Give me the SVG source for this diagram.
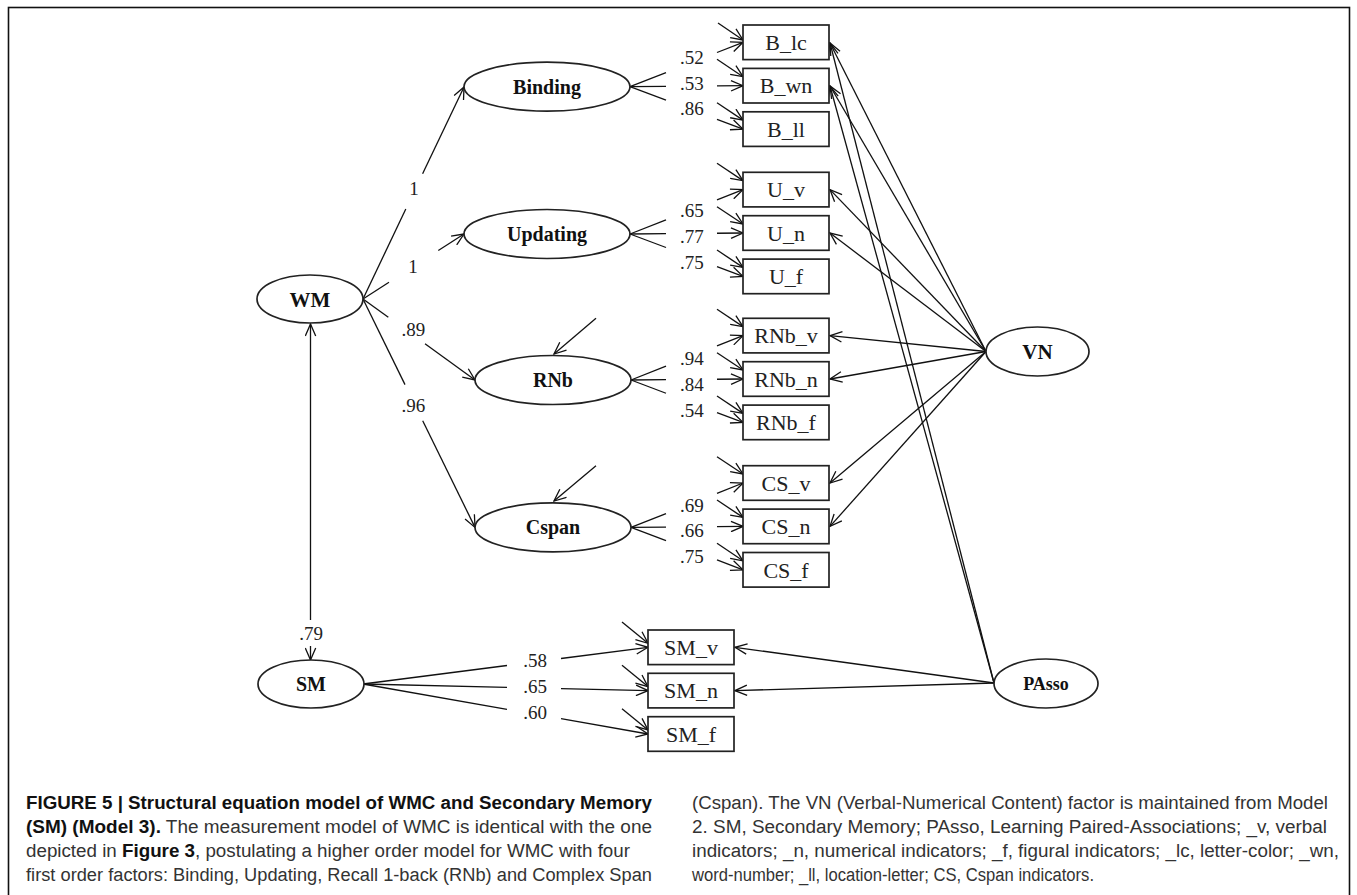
<svg xmlns="http://www.w3.org/2000/svg" width="1357" height="895" viewBox="0 0 1357 895">
<style>
.frame{fill:none;stroke:#111;stroke-width:1.6}
.el{fill:#fff;stroke:#222;stroke-width:1.7}
.bx{fill:#fff;stroke:#222;stroke-width:1.7}
.fl{font-family:"Liberation Serif","Times New Roman",serif;font-weight:bold;font-size:20px;fill:#111;text-anchor:middle}
.bl{font-family:"Liberation Serif","Times New Roman",serif;font-size:22px;fill:#222;text-anchor:middle}
.cl{font-family:"Liberation Serif","Times New Roman",serif;font-size:19px;fill:#222}
.cm{text-anchor:middle}
.ln{fill:none;stroke:#111;stroke-width:1.3}
.ar{marker-end:url(#ah)}
.cap{font-family:"Liberation Sans Narrow","Liberation Sans",Arial,sans-serif;font-size:18px;fill:#333}
.b{font-weight:bold;fill:#111}
</style>
<defs>
<marker id="ah" markerUnits="userSpaceOnUse" markerWidth="14" markerHeight="12" viewBox="0 0 14 12" refX="13" refY="6" orient="auto-start-reverse">
<path d="M1,0.8 L13,6 L1,11.2" fill="none" stroke="#111" stroke-width="1.3"/>
</marker>
</defs>
<rect class="frame" x="8.5" y="7.5" width="1341" height="900"/>

<g id="connectors">
<line class="ln" x1="363" y1="299" x2="405.8" y2="209"/>
<line class="ln ar" x1="422.6" y1="173.7" x2="464" y2="87"/>
<line class="ln" x1="363" y1="299" x2="389" y2="282.3"/>
<line class="ln ar" x1="438.3" y1="250.5" x2="464" y2="234"/>
<line class="ln" x1="363" y1="299" x2="388.3" y2="317.3"/>
<line class="ln ar" x1="425" y1="343.8" x2="475" y2="380"/>
<line class="ln" x1="363" y1="299" x2="405" y2="384.6"/>
<line class="ln ar" x1="422.7" y1="420.7" x2="475" y2="527.4"/>
<line class="ln" x1="310.5" y1="324" x2="310.5" y2="620" marker-start="url(#ah)"/>
<line class="ln ar" x1="310.5" y1="646" x2="310.5" y2="660"/>
<line class="ln ar" x1="596" y1="318.3" x2="554" y2="354"/>
<line class="ln ar" x1="596" y1="465.7" x2="554" y2="501"/>
<line class="ln" x1="630" y1="86.7" x2="666" y2="72.56"/>
<line class="ln ar" x1="717" y1="52.52" x2="743" y2="42.3"/>
<line class="ln" x1="630" y1="86.7" x2="666" y2="86.38"/>
<line class="ln ar" x1="717" y1="85.93" x2="743" y2="85.7"/>
<line class="ln" x1="630" y1="86.7" x2="666" y2="100.21"/>
<line class="ln ar" x1="717" y1="119.34" x2="743" y2="129.1"/>
<line class="ln" x1="630" y1="234" x2="666" y2="219.86"/>
<line class="ln ar" x1="717" y1="199.82" x2="743" y2="189.6"/>
<line class="ln" x1="630" y1="234" x2="666" y2="233.68"/>
<line class="ln ar" x1="717" y1="233.23" x2="743" y2="233"/>
<line class="ln" x1="630" y1="234" x2="666" y2="247.51"/>
<line class="ln ar" x1="717" y1="266.64" x2="743" y2="276.4"/>
<line class="ln" x1="631" y1="380" x2="666" y2="366.13"/>
<line class="ln ar" x1="717" y1="345.91" x2="743" y2="335.6"/>
<line class="ln" x1="631" y1="380" x2="666" y2="379.69"/>
<line class="ln ar" x1="717" y1="379.23" x2="743" y2="379"/>
<line class="ln" x1="631" y1="380" x2="666" y2="393.25"/>
<line class="ln ar" x1="717" y1="412.56" x2="743" y2="422.4"/>
<line class="ln" x1="631" y1="527.4" x2="666" y2="513.53"/>
<line class="ln ar" x1="717" y1="493.31" x2="743" y2="483"/>
<line class="ln" x1="631" y1="527.4" x2="666" y2="527.09"/>
<line class="ln ar" x1="717" y1="526.63" x2="743" y2="526.4"/>
<line class="ln" x1="631" y1="527.4" x2="666" y2="540.65"/>
<line class="ln ar" x1="717" y1="559.96" x2="743" y2="569.8"/>
<line class="ln" x1="363" y1="684" x2="507" y2="665.5"/>
<line class="ln ar" x1="561" y1="658.5" x2="648" y2="647.3"/>
<line class="ln" x1="363" y1="684" x2="507" y2="687.3"/>
<line class="ln ar" x1="561" y1="688.6" x2="648" y2="690.6"/>
<line class="ln" x1="363" y1="684" x2="507" y2="709.3"/>
<line class="ln ar" x1="561" y1="718.7" x2="648" y2="734"/>
<line class="ln ar" x1="718" y1="23" x2="743" y2="40"/>
<line class="ln ar" x1="717" y1="59.3" x2="743" y2="76.7"/>
<line class="ln ar" x1="717" y1="102.7" x2="743" y2="120.1"/>
<line class="ln ar" x1="717" y1="163.3" x2="743" y2="180.6"/>
<line class="ln ar" x1="717" y1="206.7" x2="743" y2="224"/>
<line class="ln ar" x1="717" y1="250" x2="743" y2="267.4"/>
<line class="ln ar" x1="717" y1="309.3" x2="743" y2="326.6"/>
<line class="ln ar" x1="717" y1="352.7" x2="743" y2="370"/>
<line class="ln ar" x1="717" y1="396" x2="743" y2="413.4"/>
<line class="ln ar" x1="717" y1="456.7" x2="743" y2="474"/>
<line class="ln ar" x1="717" y1="500" x2="743" y2="517.4"/>
<line class="ln ar" x1="717" y1="543.3" x2="743" y2="560.8"/>
<line class="ln ar" x1="622" y1="622" x2="648" y2="643.3"/>
<line class="ln ar" x1="622" y1="665.3" x2="648" y2="686.6"/>
<line class="ln ar" x1="622" y1="708.7" x2="648" y2="730"/>
<line class="ln ar" x1="986" y1="351.5" x2="830" y2="43"/>
<line class="ln ar" x1="986" y1="351.5" x2="830" y2="86"/>
<line class="ln ar" x1="986" y1="351.5" x2="830" y2="189.6"/>
<line class="ln ar" x1="986" y1="351.5" x2="830" y2="233"/>
<line class="ln ar" x1="986" y1="351.5" x2="830" y2="335.6"/>
<line class="ln ar" x1="986" y1="351.5" x2="830" y2="379"/>
<line class="ln ar" x1="986" y1="351.5" x2="830" y2="483"/>
<line class="ln ar" x1="986" y1="351.5" x2="830" y2="526.4"/>
<line class="ln ar" x1="994" y1="683" x2="830" y2="43"/>
<line class="ln ar" x1="994" y1="683" x2="830" y2="86"/>
<line class="ln ar" x1="994" y1="683" x2="735" y2="647.3"/>
<line class="ln ar" x1="994" y1="683" x2="735" y2="690.6"/>
</g>

<g id="path-labels">
<text class="cl cm" x="414" y="195">1</text>
<text class="cl cm" x="413" y="272.7">1</text>
<text class="cl cm" x="413.3" y="336">.89</text>
<text class="cl cm" x="413.3" y="412">.96</text>
<text class="cl cm" x="311" y="640">.79</text>
<text class="cl" x="680" y="63.5">.52</text>
<text class="cl" x="680" y="89.5">.53</text>
<text class="cl" x="680" y="115">.86</text>
<text class="cl" x="680" y="217.3">.65</text>
<text class="cl" x="680" y="243.3">.77</text>
<text class="cl" x="680" y="269.3">.75</text>
<text class="cl" x="680" y="365">.94</text>
<text class="cl" x="680" y="390.7">.84</text>
<text class="cl" x="680" y="417.3">.54</text>
<text class="cl" x="680" y="511.7">.69</text>
<text class="cl" x="680" y="537.3">.66</text>
<text class="cl" x="680" y="563.3">.75</text>
<text class="cl cm" x="535" y="667">.58</text>
<text class="cl cm" x="535" y="693">.65</text>
<text class="cl cm" x="535" y="719">.60</text>
</g>

<g id="WM"><ellipse class="el" cx="310" cy="299" rx="53" ry="24"/><text class="fl" x="310" y="306.5" style="font-size:21px">WM</text></g>
<g id="Binding"><ellipse class="el" cx="547" cy="86.7" rx="83" ry="24.5"/><text class="fl" x="547" y="93.5">Binding</text></g>
<g id="Updating"><ellipse class="el" cx="547" cy="234" rx="83" ry="24.5"/><text class="fl" x="547" y="241">Updating</text></g>
<g id="RNb"><ellipse class="el" cx="553" cy="380" rx="78" ry="24.5"/><text class="fl" x="553" y="387">RNb</text></g>
<g id="Cspan"><ellipse class="el" cx="553" cy="527.4" rx="78" ry="24.5"/><text class="fl" x="553" y="534">Cspan</text></g>
<g id="SM"><ellipse class="el" cx="311" cy="684" rx="53" ry="24"/><text class="fl" x="311" y="691">SM</text></g>
<g id="VN"><ellipse class="el" cx="1037.5" cy="351.5" rx="51.5" ry="24.5"/><text class="fl" x="1037.5" y="358.5" style="font-size:21px">VN</text></g>
<g id="PAsso"><ellipse class="el" cx="1046" cy="683.5" rx="52" ry="24.5"/><text class="fl" x="1046" y="690" style="font-size:18px">PAsso</text></g>

<g id="B_lc"><rect class="bx" x="743" y="25" width="86" height="34.6"/><text class="bl" x="786" y="50">B_lc</text></g>
<g id="B_wn"><rect class="bx" x="743" y="68.4" width="86" height="34.6"/><text class="bl" x="786" y="93.4">B_wn</text></g>
<g id="B_ll"><rect class="bx" x="743" y="111.8" width="86" height="34.6"/><text class="bl" x="786" y="136.8">B_ll</text></g>
<g id="U_v"><rect class="bx" x="743" y="172.3" width="86" height="34.6"/><text class="bl" x="786" y="197.3">U_v</text></g>
<g id="U_n"><rect class="bx" x="743" y="215.7" width="86" height="34.6"/><text class="bl" x="786" y="240.7">U_n</text></g>
<g id="U_f"><rect class="bx" x="743" y="259.1" width="86" height="34.6"/><text class="bl" x="786" y="284.1">U_f</text></g>
<g id="RNb_v"><rect class="bx" x="743" y="318.3" width="86" height="34.6"/><text class="bl" x="786" y="343.3">RNb_v</text></g>
<g id="RNb_n"><rect class="bx" x="743" y="361.7" width="86" height="34.6"/><text class="bl" x="786" y="386.7">RNb_n</text></g>
<g id="RNb_f"><rect class="bx" x="743" y="405.1" width="86" height="34.6"/><text class="bl" x="786" y="430.1">RNb_f</text></g>
<g id="CS_v"><rect class="bx" x="743" y="465.7" width="86" height="34.6"/><text class="bl" x="786" y="490.7">CS_v</text></g>
<g id="CS_n"><rect class="bx" x="743" y="509.1" width="86" height="34.6"/><text class="bl" x="786" y="534.1">CS_n</text></g>
<g id="CS_f"><rect class="bx" x="743" y="552.5" width="86" height="34.6"/><text class="bl" x="786" y="577.5">CS_f</text></g>
<g id="SM_v"><rect class="bx" x="648" y="630" width="86" height="34.6"/><text class="bl" x="691" y="655">SM_v</text></g>
<g id="SM_n"><rect class="bx" x="648" y="673.3" width="86" height="34.6"/><text class="bl" x="691" y="698.3">SM_n</text></g>
<g id="SM_f"><rect class="bx" x="648" y="716.7" width="86" height="34.6"/><text class="bl" x="691" y="741.7">SM_f</text></g>

<g id="caption">
<text class="cap b" x="26" y="809" textLength="626" lengthAdjust="spacingAndGlyphs">FIGURE 5 | Structural equation model of WMC and Secondary Memory</text>
<text class="cap" x="26" y="833" textLength="626" lengthAdjust="spacingAndGlyphs"><tspan class="b">(SM) (Model 3).</tspan> The measurement model of WMC is identical with the one</text>
<text class="cap" x="26" y="857" textLength="604" lengthAdjust="spacingAndGlyphs">depicted in <tspan class="b">Figure 3</tspan>, postulating a higher order model for WMC with four</text>
<text class="cap" x="26" y="881" textLength="626" lengthAdjust="spacingAndGlyphs">first order factors: Binding, Updating, Recall 1-back (RNb) and Complex Span</text>
<text class="cap" x="692" y="809" textLength="636" lengthAdjust="spacingAndGlyphs">(Cspan). The VN (Verbal-Numerical Content) factor is maintained from Model</text>
<text class="cap" x="692" y="833" textLength="635" lengthAdjust="spacingAndGlyphs">2. SM, Secondary Memory; PAsso, Learning Paired-Associations; _v, verbal</text>
<text class="cap" x="692" y="857" textLength="647" lengthAdjust="spacingAndGlyphs">indicators; _n, numerical indicators; _f, figural indicators; _lc, letter-color; _wn,</text>
<text class="cap" x="692" y="881" textLength="402" lengthAdjust="spacingAndGlyphs">word-number; _ll, location-letter; CS, Cspan indicators.</text>
</g>
</svg>
